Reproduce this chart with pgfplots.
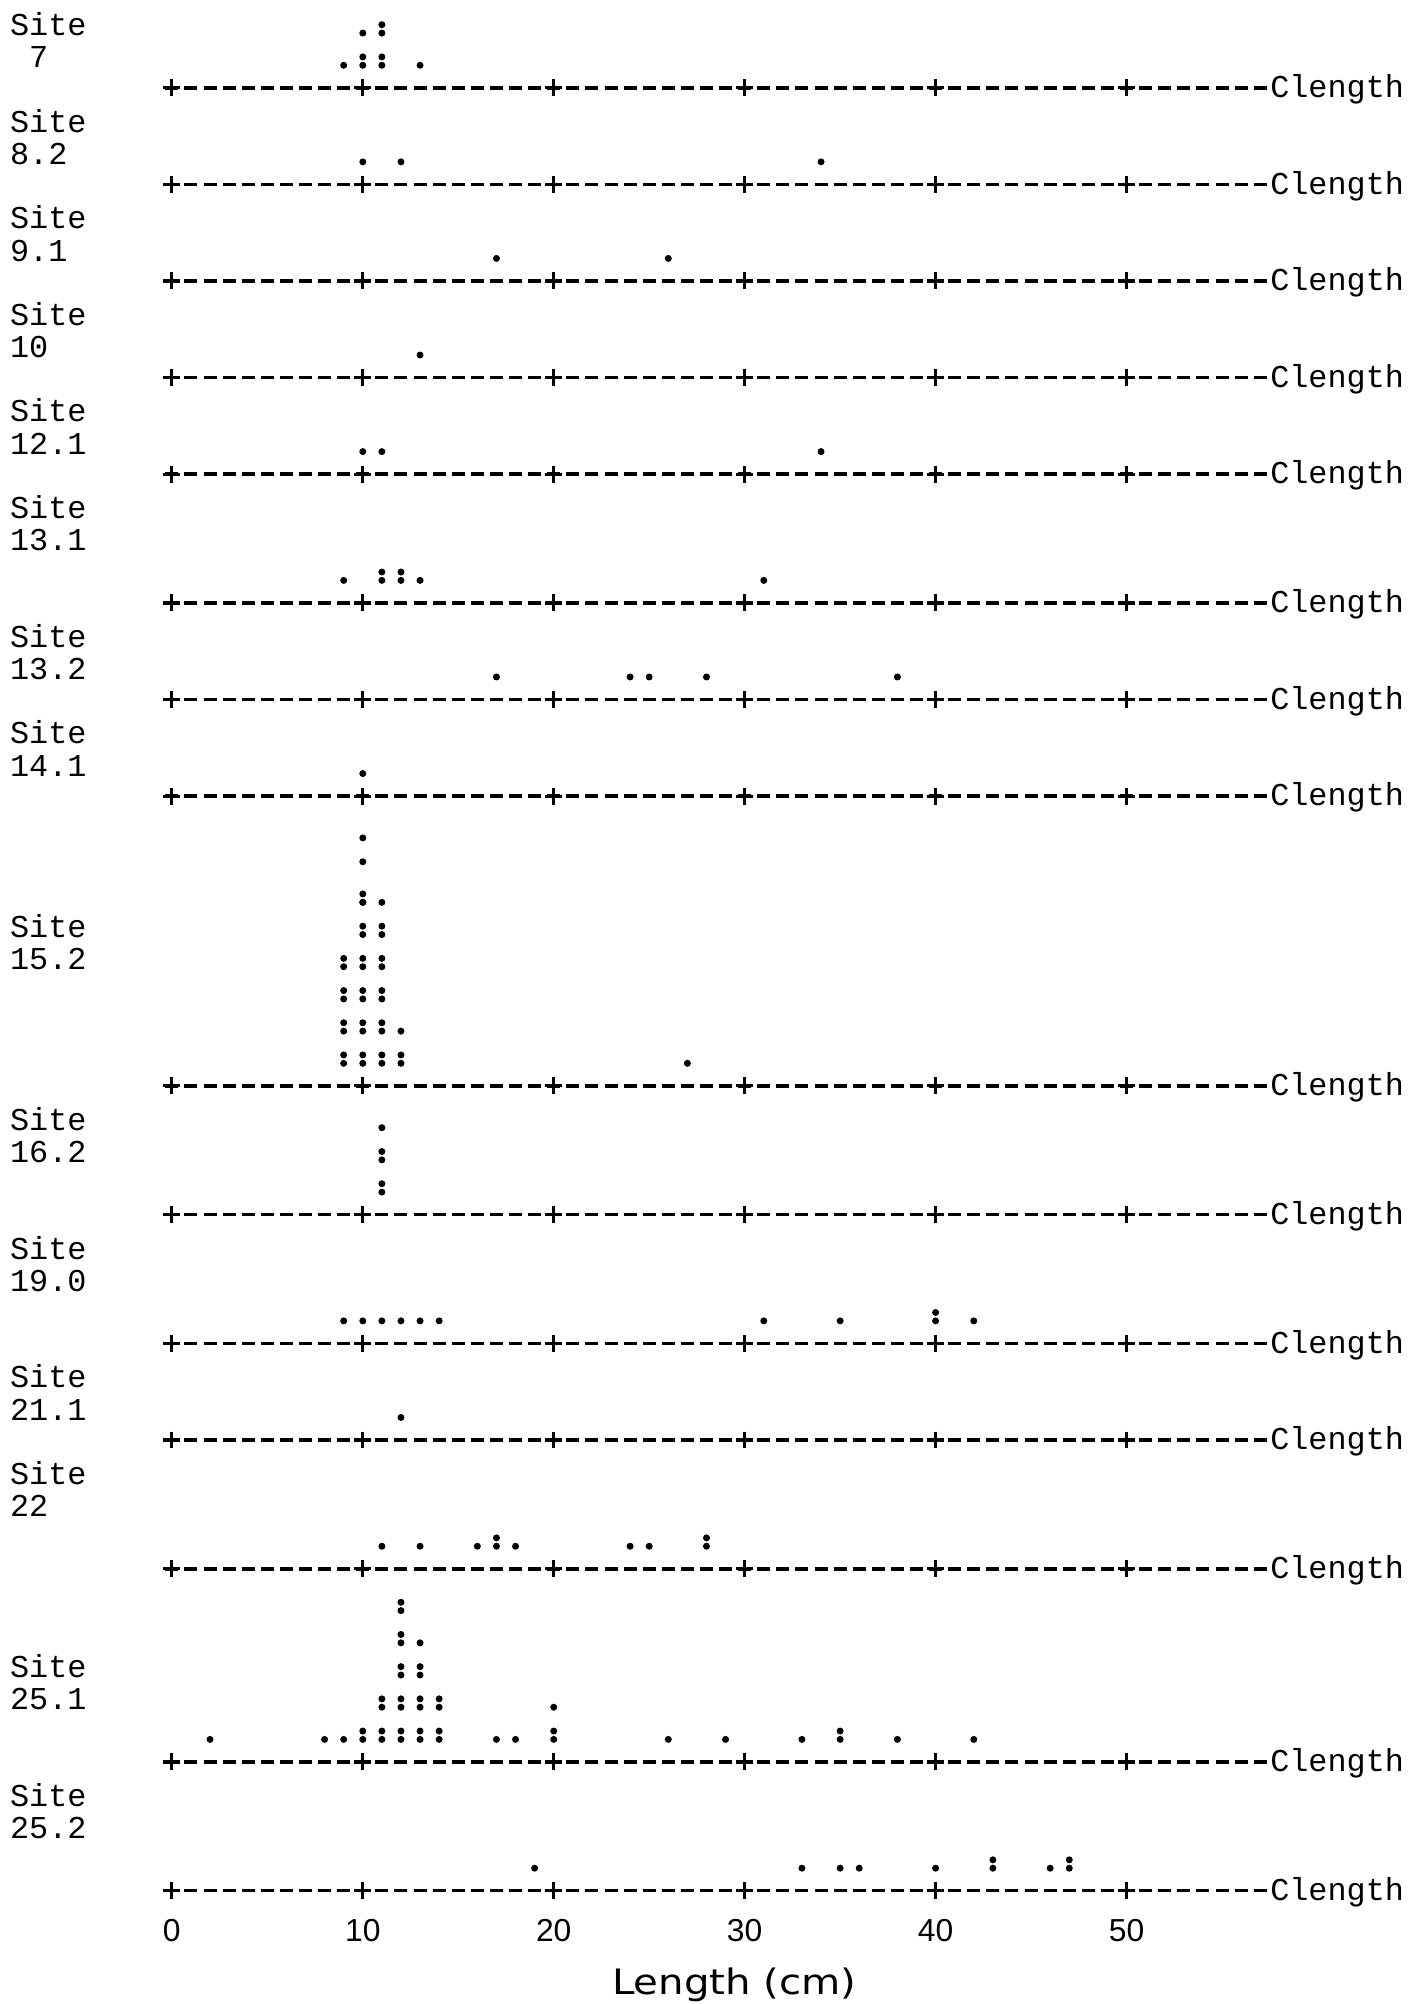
\documentclass[border=0pt]{standalone}
\usepackage{fontspec}
\usepackage{pgfplots}
\usepackage{pgfplotstable}
\pgfplotsset{compat=1.18}
\setmainfont{Liberation Sans}
\newfontfamily\monofont{Liberation Mono}
\newfontfamily\titlefont[FakeStretch=1.15]{DejaVu Sans}

% x = length class (cm), L = line of the site's axis, k = position in the stack
\pgfplotstableread{
x L k
9 0 1
10 0 1
10 0 2
10 0 3
11 0 1
11 0 2
11 0 3
11 0 4
13 0 1
10 3 1
12 3 1
34 3 1
17 6 1
26 6 1
13 9 1
10 12 1
11 12 1
34 12 1
9 16 1
11 16 1
11 16 2
12 16 1
12 16 2
13 16 1
31 16 1
17 19 1
24 19 1
25 19 1
28 19 1
38 19 1
10 22 1
9 31 1
9 31 2
9 31 3
9 31 4
9 31 5
9 31 6
9 31 7
9 31 8
10 31 1
10 31 2
10 31 3
10 31 4
10 31 5
10 31 6
10 31 7
10 31 8
10 31 9
10 31 10
10 31 11
10 31 12
10 31 13
10 31 14
10 31 15
11 31 1
11 31 2
11 31 3
11 31 4
11 31 5
11 31 6
11 31 7
11 31 8
11 31 9
11 31 10
11 31 11
12 31 1
12 31 2
12 31 3
27 31 1
11 35 1
11 35 2
11 35 3
11 35 4
11 35 5
9 39 1
10 39 1
11 39 1
12 39 1
13 39 1
14 39 1
31 39 1
35 39 1
40 39 1
40 39 2
42 39 1
12 42 1
11 46 1
13 46 1
16 46 1
17 46 1
17 46 2
18 46 1
24 46 1
25 46 1
28 46 1
28 46 2
2 52 1
8 52 1
9 52 1
10 52 1
10 52 2
11 52 1
11 52 2
11 52 3
11 52 4
12 52 1
12 52 2
12 52 3
12 52 4
12 52 5
12 52 6
12 52 7
12 52 8
12 52 9
12 52 10
13 52 1
13 52 2
13 52 3
13 52 4
13 52 5
13 52 6
13 52 7
14 52 1
14 52 2
14 52 3
14 52 4
17 52 1
18 52 1
20 52 1
20 52 2
20 52 3
26 52 1
29 52 1
33 52 1
35 52 1
35 52 2
38 52 1
42 52 1
19 56 1
33 56 1
35 56 1
36 56 1
40 56 1
43 56 1
43 56 2
46 56 1
47 56 1
47 56 2
}\dotdata

\newcommand{\sitelabel}[2]{%
  \node[anchor=base west, inner sep=0pt, font=\monofont\fontsize{12}{12}\selectfont] at (axis cs:-8.5,{-(#1+0.38)}) {Site};
  \node[anchor=base west, inner sep=0pt, font=\monofont\fontsize{12}{12}\selectfont] at (axis cs:-8.5,{-(#1+1.38)}) {#2};
}

\begin{document}
\begin{tikzpicture}
\begin{axis}[
  scale only axis,
  x=7.2pt, y=12.14pt,
  xmin=-9.0, xmax=65.18, ymin=-59.51, ymax=2.72,
  axis line style={draw=none},
  major tick length=0pt,
  ytick=\empty,
  xtick={0,10,20,30,40,50},
  xticklabels={0,10,20,30,40,50},
  xticklabel style={font=\fontsize{12}{12}\selectfont, anchor=center, inner sep=0pt, yshift=27.5pt},
  xlabel={Length (cm)},
  xlabel style={font=\titlefont\fontsize{13.2}{14}\selectfont, at={(axis description cs:0.5185,0)}, anchor=base, inner sep=0pt, yshift=3.6pt},
  clip=false,
]
% site axes: dashed rule with + at every 10 cm
\pgfplotsinvokeforeach{0,3,6,9,12,16,19,22,31,35,39,42,46,52,56}{
  \addplot[black, line width=1.3pt, dash pattern=on 4.9pt off 2.3pt] coordinates {(-0.34,-#1) (57.34,-#1)};
  \addplot[black, only marks, mark=+, mark size=3.2pt, mark options={line width=1.2pt}] coordinates {(0,-#1) (10,-#1) (20,-#1) (30,-#1) (40,-#1) (50,-#1)};
  \node[anchor=base west, inner sep=0pt, font=\monofont\fontsize{12}{12}\selectfont] at (axis cs:57.5,{-(#1+0.3)}) {Clength};
}
% dots
\addplot[black, only marks, mark=*, mark size=1.1pt]
  table[x=x, y expr={-(\thisrow{L}-0.7-floor((\thisrow{k}-1)/2)-0.26*(1-mod(\thisrow{k},2)))}] {\dotdata};
% site labels
\sitelabel{-2}{\ 7}
\sitelabel{1}{8.2}
\sitelabel{4}{9.1}
\sitelabel{7}{10}
\sitelabel{10}{12.1}
\sitelabel{13}{13.1}
\sitelabel{17}{13.2}
\sitelabel{20}{14.1}
\sitelabel{26}{15.2}
\sitelabel{32}{16.2}
\sitelabel{36}{19.0}
\sitelabel{40}{21.1}
\sitelabel{43}{22}
\sitelabel{49}{25.1}
\sitelabel{53}{25.2}
\end{axis}
\end{tikzpicture}
\end{document}
